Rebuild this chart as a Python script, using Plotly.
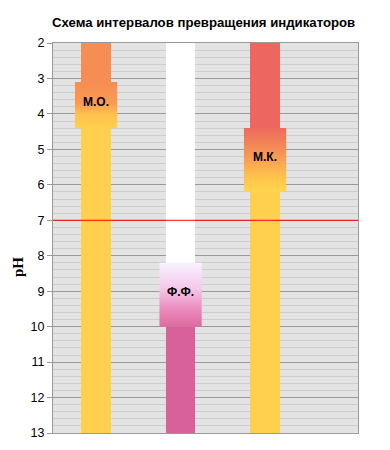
import plotly.graph_objects as go

# ---- data ----
indicators = ["М.О.", "Ф.Ф.", "М.К."]
positions = [0, 1, 2]
trans_low = [3.1, 8.2, 4.4]     # start of colour-change interval (pH)
trans_high = [4.4, 10.0, 6.2]   # end of colour-change interval (pH)
ph_min, ph_max = 2, 13
neutral_ph = 7

# ---- styles ----
x_range = [-0.51, 3.1]
acid_colors = ["#F68D52", "#FFFFFF", "#EE6660"]
base_colors = ["#FFD04E", "#D9619B", "#FFD04E"]
box_scales = [
    [[0, "#F68D52"], [0.45, "#FA9A50"], [0.7, "#FFC04C"], [1, "#FFD04E"]],
    [[0, "#F8F2FF"], [0.4, "#F4C8EA"], [0.75, "#EA88BA"], [1, "#DE6A9E"]],
    [[0, "#EE6A5E"], [0.45, "#F89A52"], [0.75, "#FFC24C"], [1, "#FFD64E"]],
]
narrow_w = 0.35
wide_w = 0.5

fig = go.Figure()

# neutral line (pH 7), drawn first so the columns cover it
fig.add_trace(go.Scatter(
    x=x_range, y=[neutral_ph, neutral_ph], mode="lines",
    line=dict(color="#FF0000", width=1), hoverinfo="skip", showlegend=False))

# acid-form columns
fig.add_trace(go.Bar(
    x=positions, base=[ph_min] * 3,
    y=[lo - ph_min for lo in trans_low],
    width=narrow_w, marker=dict(color=acid_colors, line=dict(width=0)),
    hoverinfo="skip", showlegend=False))

# base-form columns
fig.add_trace(go.Bar(
    x=positions, base=trans_high,
    y=[ph_max - hi for hi in trans_high],
    width=narrow_w, marker=dict(color=base_colors, line=dict(width=0)),
    hoverinfo="skip", showlegend=False))

# transition boxes with vertical gradient
for p, lo, hi, cs, name in zip(positions, trans_low, trans_high, box_scales, indicators):
    x0, x1 = p - wide_w / 2, p + wide_w / 2
    fig.add_trace(go.Scatter(
        x=[x0, x1, x1, x0, x0], y=[lo, lo, hi, hi, lo],
        mode="lines", fill="toself", line=dict(width=0),
        fillgradient=dict(type="vertical", colorscale=cs, start=lo, stop=hi),
        hoverinfo="skip", showlegend=False))
    fig.add_annotation(x=p, y=(lo + hi) / 2, text="<b>%s</b>" % name,
                       showarrow=False, yshift=3,
                       font=dict(family="Arial, Liberation Sans", size=12, color="black"))

# y-axis title as a rotated annotation
fig.add_annotation(xref="paper", yref="paper", x=-0.115, y=0.497, yshift=-28,
                   xanchor="center", yanchor="middle", textangle=-90,
                   text="<b>pH</b>", showarrow=False,
                   font=dict(family="Liberation Serif, Times New Roman", size=15, color="black"))

# page body has an 8px default margin, so the figure is sized to fit the window
fig.update_layout(
    width=382, height=442,
    margin=dict(l=45, r=32, t=35, b=17),
    paper_bgcolor="white", plot_bgcolor="#E3E3E3",
    barmode="overlay", bargap=0,
    title=dict(text="<b>Схема интервалов превращения индикаторов</b>",
               x=0.512, xanchor="center", y=0.968, yanchor="middle",
               font=dict(family="Arial, Liberation Sans", size=13.2, color="black")),
    xaxis=dict(range=x_range, showticklabels=False, showgrid=False,
               zeroline=False, showline=True, linecolor="#999999", linewidth=1,
               mirror=True, ticks="", automargin=False),
    yaxis=dict(range=[ph_max, ph_min], tickmode="linear", tick0=ph_min, dtick=1,
               showgrid=True, automargin=False,
               gridcolor="#9A9A9A", gridwidth=1, zeroline=False,
               showline=True, linecolor="#999999", linewidth=1, mirror=True,
               ticks="outside", ticklen=5, tickcolor="#999999",
               tickfont=dict(family="Arial, Liberation Sans", size=12.5, color="black"),
               minor=dict(tickmode="linear", tick0=ph_min, dtick=0.2, showgrid=True,
                          gridcolor="#CDCDCD", gridwidth=1, ticks="")),
)

fig.write_html("out.html")
